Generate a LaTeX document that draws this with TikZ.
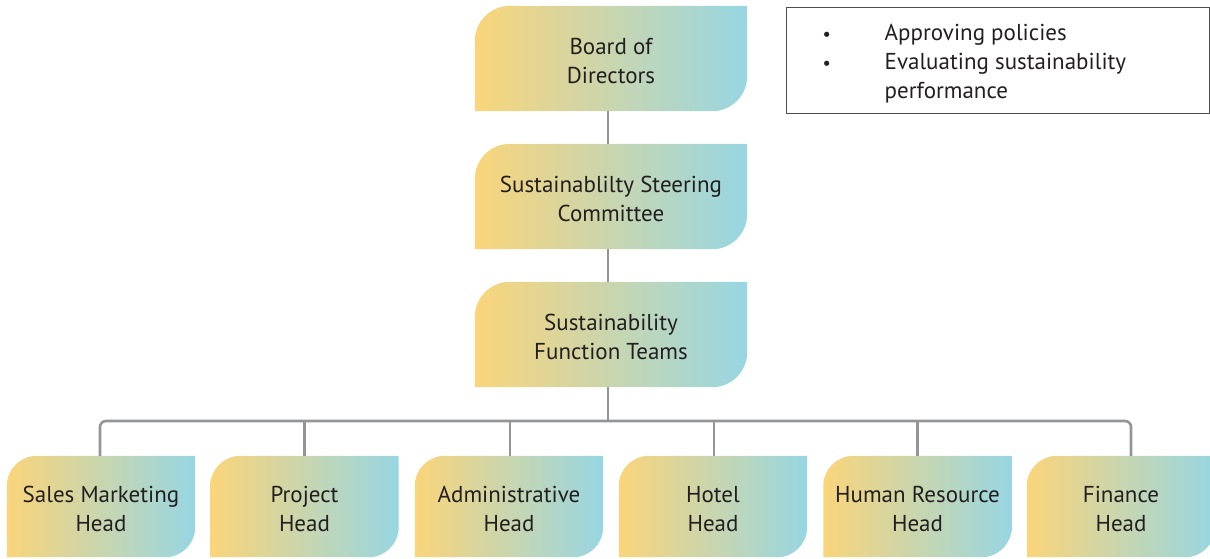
\documentclass[tikz,border=0pt]{standalone}
\usepackage{fontspec}
\setmainfont{PT Sans}
\usetikzlibrary{calc,backgrounds}
\definecolor{yel}{HTML}{FAD57A}
\definecolor{midc}{HTML}{D4D9A8}
\definecolor{cya}{HTML}{97D6E3}
\definecolor{txt}{HTML}{231F20}
\definecolor{linec}{HTML}{939598}
\definecolor{framec}{HTML}{4D4D4F}
\tikzset{
  boxtext/.style={inner sep=0pt, align=center, text=txt, font=\fontsize{23}{29}\selectfont},
  conn/.style={draw=linec, line width=2.6pt},
  notebox/.style={draw=framec, line width=1pt, inner sep=0pt},
}
\newcommand\orgbox[7]{%
  \node[boxtext, minimum width=#4pt, minimum height=#5pt] (#1) at (#2,#3)
    {\raisebox{-5pt}[\height][\depth]{\begin{tabular}{@{}c@{}}#7\end{tabular}}};
  \begin{scope}[on background layer]
    \shade[left color=yel, middle color=midc, right color=cya]
      (#1.south west) -- ([yshift=-#6pt]#1.north west)
      .. controls ([yshift={-0.45*#6}]#1.north west) and ([xshift={0.45*#6}]#1.north west) ..
      ([xshift=#6pt]#1.north west) -- (#1.north east) -- ([yshift=#6pt]#1.south east)
      .. controls ([yshift={0.45*#6}]#1.south east) and ([xshift={-0.45*#6}]#1.south east) ..
      ([xshift=-#6pt]#1.south east) -- cycle;
  \end{scope}}
\begin{document}
\begin{tikzpicture}[x=1pt,y=-1pt]
\useasboundingbox (0,0) rectangle (1210,558);
\clip (0,0) rectangle (1210,558);

\orgbox{bod}{611}{58.5}{272}{105}{35}{Board of\\Directors}
\orgbox{ssc}{611}{196.5}{272}{105}{35}{Sustainablilty Steering\\Committee}
\orgbox{sft}{611}{334.5}{272}{105}{35}{Sustainability\\Function Teams}

\orgbox{sal}{101}{506.5}{188}{101}{30}{Sales Marketing\\Head}
\orgbox{pro}{304.5}{506.5}{188}{101}{30}{Project\\Head}
\orgbox{adm}{509}{506.5}{188}{101}{30}{Administrative\\Head}
\orgbox{hot}{713}{506.5}{188}{101}{30}{Hotel\\Head}
\orgbox{hum}{917.5}{506.5}{188}{101}{30}{Human Resource\\Head}
\orgbox{fin}{1121}{506.5}{188}{101}{30}{Finance\\Head}

\coordinate (hub) at (608,421);
\draw[conn] (bod.south -| hub) -- (ssc.north -| hub);
\draw[conn] (ssc.south -| hub) -- (sft.north -| hub);
\draw[conn] (sft.south -| hub) -- (hub);
\draw[conn, rounded corners=6pt] ([xshift=-1pt]sal.north) |- (hub) -| ([xshift=10pt]fin.north);
\draw[conn] (pro.north) -- (pro.north |- hub);
\draw[conn] ([xshift=1pt]adm.north) -- ([xshift=1pt]adm.north |- hub);
\draw[conn] ([xshift=1pt]hot.north) -- ([xshift=1pt]hot.north |- hub);
\draw[conn] (hum.north) -- (hum.north |- hub);

\node[notebox, minimum width=423pt, minimum height=106pt] (notes) at (997.5,60) {};
\node[boxtext, anchor=west, align=left] (notetext) at ([xshift=37pt,yshift=-3.5pt]notes.west)
  {\makebox[62pt][l]{\scalebox{0.8}{\textbullet}}Approving policies\\
   \makebox[62pt][l]{\scalebox{0.8}{\textbullet}}Evaluating sustainability\\
   \hspace*{62pt}performance};
\end{tikzpicture}
\end{document}
